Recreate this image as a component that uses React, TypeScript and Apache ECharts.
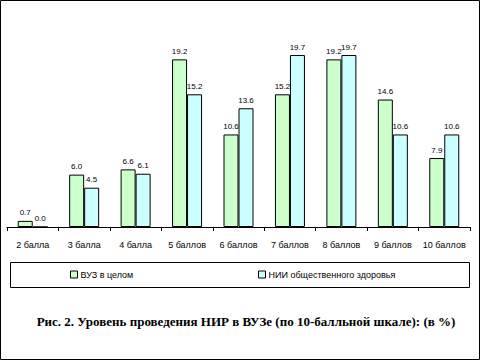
import React, { useEffect, useRef } from "react";
import * as echarts from "echarts";

const categories = ["2 балла", "3 балла", "4 балла", "5 баллов", "6 баллов", "7 баллов", "8 баллов", "9 баллов", "10 баллов"];
const vuzValues = [0.7, 6.0, 6.6, 19.2, 10.6, 15.2, 19.2, 14.6, 7.9];
const niiValues = [0.0, 4.5, 6.1, 15.2, 13.6, 19.7, 19.7, 10.6, 10.6];
const seriesNames = ["ВУЗ в целом", "НИИ общественного здоровья"];
const title = "Рис. 2. Уровень проведения НИР в ВУЗе (по 10-балльной шкале): (в %)";

export default function App() {
  const ref = useRef<HTMLDivElement>(null);
  useEffect(() => {
    if (!ref.current) return;
    const chart = echarts.init(ref.current, null, { renderer: "svg" });
    const label = {
      show: true,
      position: "top",
      distance: 4,
      fontFamily: "Liberation Sans",
      fontSize: 8,
      color: "#000",
      formatter: (p: any) => Number(p.value).toFixed(1),
    };
    const legendCommon = {
      top: 270,
      itemWidth: 7,
      itemHeight: 7,
      icon: "rect",
      itemStyle: { borderColor: "#000", borderWidth: 1 },
      textStyle: { fontFamily: "Liberation Sans", fontSize: 9, color: "#000", padding: [0, 0, 0, -2] },
      padding: 0,
    };
    chart.setOption({
      animation: false,
      backgroundColor: "#fff",
      grid: { left: 7, right: 11, top: 52.4, bottom: 134, containLabel: false },
      xAxis: {
        type: "category",
        data: categories,
        axisLine: { lineStyle: { color: "#000", width: 1 } },
        axisTick: { show: true, length: 4, lineStyle: { color: "#000" } },
        axisLabel: { color: "#000", fontFamily: "Liberation Sans", fontSize: 9, margin: 13, interval: 0 },
      },
      yAxis: { type: "value", min: 0, max: 20, show: false, splitLine: { show: false } },
      legend: [
        { ...legendCommon, data: [seriesNames[0]], left: 70 },
        { ...legendCommon, data: [seriesNames[1]], left: 258 },
      ],
      series: [
        {
          name: seriesNames[0],
          type: "bar",
          data: vuzValues,
          barWidth: 15,
          barGap: "0%",
          itemStyle: { color: "#ccffcc", borderColor: "#000", borderWidth: 1 },
          label,
        },
        {
          name: seriesNames[1],
          type: "bar",
          data: niiValues,
          barWidth: 15,
          barGap: "0%",
          itemStyle: { color: "#ccffff", borderColor: "#000", borderWidth: 1 },
          label,
        },
      ],
      graphic: [
        {
          type: "rect",
          shape: { x: 0.5, y: 0.5, width: 479, height: 359 },
          style: { fill: "none", stroke: "#000", lineWidth: 1 },
          silent: true,
        },
        {
          type: "rect",
          shape: { x: 10.5, y: 262.5, width: 459, height: 25 },
          style: { fill: "none", stroke: "#000", lineWidth: 1 },
          silent: true,
        },
        {
          type: "text",
          x: 246,
          y: 321,
          style: {
            text: title,
            fontFamily: "Liberation Serif",
            fontWeight: "bold",
            fontSize: 13,
            fill: "#000",
            align: "center",
            verticalAlign: "middle",
          },
        },
      ],
    });
    return () => chart.dispose();
  }, []);
  return <div ref={ref} style={{ position: "absolute", left: 0, top: 0, width: 481, height: 361 }} />;
}
